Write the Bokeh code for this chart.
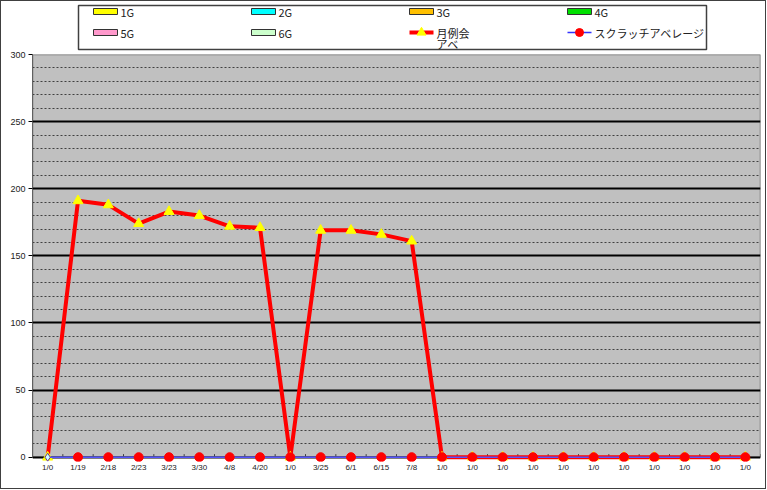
from bokeh.plotting import figure
from bokeh.layouts import column
from bokeh.models import Range1d, FixedTicker, ColumnDataSource, BoxAnnotation
from bokeh.embed import file_html
from bokeh.resources import INLINE
from bokeh.core.properties import value

# ---------------- data ----------------
dates = ["1/0", "1/19", "2/18", "2/23", "3/23", "3/30", "4/8", "4/20",
         "1/0", "3/25", "6/1", "6/15", "7/8"] + ["1/0"] * 11
getsurei_ave = [0, 191, 188, 174, 183, 180, 172, 171,
                0, 169, 169, 166, 161] + [0] * 11
scratch_ave = [0] * 24
bar_series = ["1G", "2G", "3G", "4G", "5G", "6G"]
line_series = ["月例会アベ", "スクラッチアベレージ"]
y_ticks = [0, 50, 100, 150, 200, 250, 300]

# ---------------- styles / layout ----------------
FONT = "Noto Sans CJK JP"
bar_colors = ["#ffff00", "#00ffff", "#ffc000", "#00e000", "#ff99cc", "#ccffcc"]
W = 764          # figure width (inside 1px outer border)
LH = 50          # legend strip height
MH = 437         # main chart height
BL, BR = 31, 5   # left / right borders of plot frames
LFS = "11px"     # legend font size

# ---------------- legend figure ----------------
leg = figure(width=W, height=LH, x_range=Range1d(BL, W - BR), y_range=Range1d(LH, 0),
             min_border=0, min_border_left=BL, min_border_right=BR,
             min_border_top=0, min_border_bottom=0,
             output_backend="svg", toolbar_location=None,
             x_axis_type=None, y_axis_type=None)
leg.grid.visible = False
leg.outline_line_color = None
leg.background_fill_color = "white"
leg.border_fill_color = "white"

leg.quad(left=[77], right=[705], top=[4], bottom=[48], fill_color=None,
         line_color="#404040", line_width=1.5)

col_x = [92, 250, 408, 566]
row_y = [10, 31]
sw = 24
for i, name in enumerate(bar_series):
    cx = col_x[i % 4]
    cy = row_y[i // 4]
    leg.quad(left=[cx], right=[cx + sw], top=[cy - 3], bottom=[cy + 3],
             fill_color=bar_colors[i], line_color="#333333", line_width=1)
    leg.text(x=[cx + 27], y=[cy], text=[name], text_font=value(FONT),
             text_font_size=LFS, text_baseline="middle", text_align="left",
             text_color="#222222")

cx, cy = col_x[2], row_y[1]
leg.segment(x0=[cx], y0=[cy], x1=[cx + sw], y1=[cy], line_color="red", line_width=4)
leg.scatter(x=[cx + sw / 2], y=[cy], marker="triangle", size=9,
            fill_color="yellow", line_color="yellow")
leg.text(x=[cx + 27, cx + 27], y=[cy, cy + 11], text=[line_series[0][:3], line_series[0][3:]],
         text_font=value(FONT), text_font_size=LFS, text_baseline="middle",
         text_align="left", text_color="#222222")

cx, cy = col_x[3], row_y[1]
leg.segment(x0=[cx], y0=[cy], x1=[cx + sw], y1=[cy], line_color="#3333ff", line_width=1.5)
leg.scatter(x=[cx + sw / 2], y=[cy], marker="circle", size=8,
            fill_color="red", line_color="red")
leg.text(x=[cx + 27], y=[cy], text=[line_series[1]], text_font=value(FONT),
         text_font_size=LFS, text_baseline="middle", text_align="left",
         text_color="#222222")

# ---------------- main chart ----------------
xs = list(range(len(dates)))
src = ColumnDataSource(dict(
    x=xs, g=getsurei_ave, s=scratch_ave,
    m=["diamond" if i == 0 else "circle" for i in xs],
    fc=["#ccffff" if i == 0 else "red" for i in xs],
    lc=["#663399" if i == 0 else "red" for i in xs],
    sz=[8 if i == 0 else 9 for i in xs],
))

p = figure(width=W, height=MH, x_range=Range1d(-0.5, len(dates) - 0.5),
           y_range=Range1d(-3.2, 300), min_border_left=BL, min_border_right=BR,
           min_border_top=3, min_border_bottom=27,
           output_backend="svg", toolbar_location=None)
p.background_fill_color = "white"
p.border_fill_color = "white"
p.outline_line_color = None

p.add_layout(BoxAnnotation(bottom=0, top=300, fill_color="#c0c0c0", fill_alpha=1,
                           line_color="#707070", line_alpha=1, line_width=1.5,
                           level="image"))

p.xgrid.visible = False
p.ygrid.ticker = FixedTicker(ticks=y_ticks, minor_ticks=list(range(10, 300, 10)))
p.ygrid.grid_line_color = "black"
p.ygrid.grid_line_width = 2
p.ygrid.minor_grid_line_color = "#404040"
p.ygrid.minor_grid_line_width = 1
p.ygrid.minor_grid_line_dash = "2 2"

p.yaxis.ticker = FixedTicker(ticks=y_ticks)
p.yaxis.bounds = (0, 300)
p.yaxis.major_tick_out = 4
p.yaxis.major_tick_in = 0
p.yaxis.minor_tick_out = 0
p.yaxis.minor_tick_in = 0
p.yaxis.axis_line_color = "#606060"
p.yaxis.major_label_text_font = "Liberation Sans"
p.yaxis.major_label_text_font_size = "9px"
p.yaxis.major_label_standoff = 3
p.yaxis.major_label_text_color = "#222222"

p.xaxis.ticker = FixedTicker(ticks=xs)
p.xaxis.major_label_overrides = {i: d for i, d in enumerate(dates)}
p.xaxis.major_tick_out = 0
p.xaxis.major_tick_in = 0
p.xaxis.minor_tick_in = 0
p.xaxis.minor_tick_out = 0
p.xaxis.axis_line_color = None
p.xaxis.major_label_text_font = "Liberation Sans"
p.xaxis.major_label_text_font_size = "8px"
p.xaxis.major_label_standoff = 1
p.xaxis.major_label_text_color = "#222222"

# category boundary tick marks on the zero line
bounds = [i - 0.5 for i in range(len(dates) + 1)]
p.segment(x0=bounds, y0=[0] * len(bounds), x1=bounds, y1=[2.3] * len(bounds),
          line_color="#404040", line_width=1)

p.line("x", "g", source=src, line_color="red", line_width=4)
p.scatter("x", "g", source=src, marker="triangle", size=10,
          fill_color="yellow", line_color="yellow")
p.line("x", "s", source=src, line_color="#5555ff", line_width=1.5)
p.scatter("x", "s", source=src, marker="m", size="sz",
          fill_color="fc", line_color="lc", line_width=1)

layout = column(leg, p, styles={"border": "1px solid #404040"})

open("out.html", "w").write(file_html(layout, INLINE))
